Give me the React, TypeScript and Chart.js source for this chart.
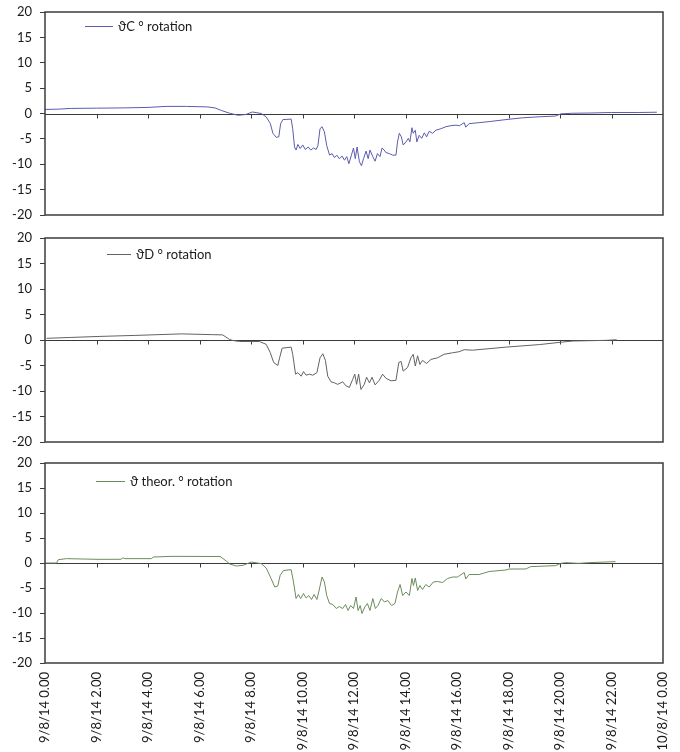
import React, { useEffect, useRef } from 'react';
import { Chart, registerables } from 'chart.js';

Chart.register(...registerables);

// ---- data (hours after 9/8/14 0.00, rotation in degrees) ----
const xTickHours = [0, 2, 4, 6, 8, 10, 12, 14, 16, 18, 20, 22, 24];
const xTickLabels = [
  '9/8/14 0.00', '9/8/14 2.00', '9/8/14 4.00', '9/8/14 6.00', '9/8/14 8.00',
  '9/8/14 10.00', '9/8/14 12.00', '9/8/14 14.00', '9/8/14 16.00', '9/8/14 18.00',
  '9/8/14 20.00', '9/8/14 22.00', '10/8/14 0.00',
];
const yMin = -20;
const yMax = 20;
const yStep = 5;

const hoursC = [
  0, 0.5, 1, 2, 3, 4, 4.7, 5.5, 6.3, 6.6,
  6.85, 7.17, 7.5, 7.8, 8.05, 8.4, 8.59, 8.75, 8.85, 8.98,
  9.08, 9.15, 9.24, 9.56, 9.62, 9.69, 9.75, 9.82, 9.91, 10.01,
  10.11, 10.22, 10.32, 10.43, 10.53, 10.6, 10.68, 10.76, 10.85, 10.94,
  11.05, 11.15, 11.24, 11.33, 11.43, 11.54, 11.63, 11.72, 11.8, 11.9,
  11.98, 12.05, 12.12, 12.21, 12.29, 12.37, 12.47, 12.55, 12.62, 12.73,
  12.82, 12.91, 13.01, 13.09, 13.17, 13.24, 13.37, 13.5, 13.63, 13.69,
  13.76, 13.84, 13.91, 14.02, 14.11, 14.17, 14.25, 14.3, 14.38, 14.44,
  14.53, 14.63, 14.73, 14.82, 14.92, 15.05, 15.18, 15.37, 15.57, 15.76,
  15.96, 16.1, 16.28, 16.34, 16.47, 16.86, 17.25, 17.9, 18.54, 19.19,
  19.83, 20.03, 20.48, 21.2, 22.0, 23.06, 23.76,
];
const valuesC = [
  0.8, 0.85, 1.0, 1.05, 1.1, 1.2, 1.4, 1.4, 1.3, 1.1,
  0.6, 0.05, -0.35, -0.2, 0.3, 0.0, -0.67, -1.97, -3.9, -4.7,
  -4.6, -2.0, -1.2, -1.1, -3.0, -6.6, -7.2, -6.1, -6.9, -6.2,
  -7.1, -6.6, -7.2, -6.8, -7.1, -6.3, -3.0, -2.6, -3.6, -6.3,
  -8.2, -7.9, -8.7, -8.2, -8.9, -8.4, -9.2, -8.5, -9.9, -8.2,
  -6.8, -8.9, -6.6, -9.5, -10.3, -8.9, -7.4, -8.9, -7.2, -8.5,
  -9.4, -7.9, -8.5, -6.8, -7.2, -7.7, -7.9, -8.2, -8.2, -5.6,
  -3.9, -4.6, -6.2, -5.6, -4.9, -5.6, -2.8, -3.9, -3.3, -5.6,
  -4.3, -4.9, -3.8, -4.6, -3.5, -3.9, -3.3, -3.0, -2.6, -2.4,
  -2.3, -2.4, -1.8, -2.7, -2.0, -1.8, -1.6, -1.2, -0.85, -0.65,
  -0.5, -0.07, 0.05, 0.1, 0.2, 0.2, 0.25,
];

const hoursD = [
  0.06, 1, 2.1, 3.5, 5.3, 6.5, 6.9, 7.17, 7.3, 7.56,
  8.33, 8.59, 8.75, 8.88, 9.04, 9.11, 9.21, 9.56, 9.62, 9.73,
  9.82, 9.95, 10.04, 10.14, 10.27, 10.4, 10.56, 10.68, 10.79, 10.89,
  10.98, 11.11, 11.24, 11.37, 11.56, 11.69, 11.82, 11.95, 12.03, 12.1,
  12.18, 12.27, 12.4, 12.49, 12.6, 12.7, 12.82, 12.98, 13.11, 13.24,
  13.44, 13.63, 13.74, 13.83, 13.91, 14.08, 14.21, 14.3, 14.38, 14.47,
  14.56, 14.66, 14.82, 14.99, 15.24, 15.5, 15.83, 16.08, 16.28, 16.6,
  17.9, 19.2, 20.1, 20.5, 21.8, 22.2,
];
const valuesD = [
  0.33, 0.5, 0.7, 0.9, 1.2, 1.05, 1.0, 0.1, -0.1, -0.3,
  -0.3, -0.85, -2.5, -4.4, -5.0, -3.5, -1.6, -1.4, -2.8, -6.7,
  -6.4, -7.1, -6.2, -6.9, -6.7, -6.9, -6.4, -3.5, -2.7, -4.0,
  -7.1, -8.2, -8.4, -8.7, -8.2, -9.0, -9.3, -7.7, -6.7, -8.7,
  -6.7, -9.7, -8.7, -7.3, -8.4, -7.3, -8.8, -7.9, -6.7, -7.5,
  -8.0, -7.9, -4.4, -4.2, -6.1, -5.4, -3.5, -2.8, -5.1, -3.1,
  -4.8, -4.0, -4.6, -3.8, -3.5, -2.8, -2.5, -2.3, -1.9, -2.0,
  -1.4, -0.9, -0.4, -0.2, -0.07, 0.05,
];

const hoursT = [
  0, 0.45, 0.52, 0.84, 2.1, 2.95, 3.03, 3.1, 4.14, 4.2,
  4.97, 6.8, 7.04, 7.17, 7.43, 7.69, 8.01, 8.4, 8.59, 8.78,
  8.92, 9.04, 9.13, 9.26, 9.56, 9.65, 9.75, 9.84, 9.93, 10.04,
  10.14, 10.24, 10.35, 10.45, 10.56, 10.63, 10.76, 10.85, 10.94, 11.05,
  11.18, 11.31, 11.43, 11.56, 11.67, 11.77, 11.87, 11.98, 12.08, 12.16,
  12.24, 12.31, 12.42, 12.52, 12.62, 12.73, 12.83, 12.93, 13.06, 13.18,
  13.31, 13.46, 13.59, 13.69, 13.79, 13.89, 14.02, 14.15, 14.25, 14.31,
  14.38, 14.47, 14.56, 14.66, 14.79, 14.92, 15.08, 15.24, 15.44, 15.63,
  15.83, 16.02, 16.28, 16.34, 16.47, 16.86, 17.25, 17.9, 18.02, 18.67,
  18.86, 19.83, 20.03, 20.22, 20.73, 21.12, 22.16,
];
const valuesT = [
  0, 0, 0.67, 0.87, 0.73, 0.75, 1.05, 0.87, 0.87, 1.2,
  1.33, 1.3, 0.4, -0.2, -0.6, -0.47, 0.2, -0.13, -1.0, -3.1,
  -4.8, -4.6, -2.5, -1.5, -1.33, -3.8, -7.1, -6.3, -7.1, -6.1,
  -7.0, -6.5, -7.3, -6.3, -7.3, -5.8, -2.8, -3.8, -6.5, -8.1,
  -8.3, -9.1, -8.7, -9.1, -8.3, -9.5, -8.5, -9.1, -6.8, -9.5,
  -8.5, -10.1, -8.8, -8.1, -9.5, -7.1, -9.1, -8.5, -7.1, -7.8,
  -7.5, -8.5, -8.1, -5.8, -4.3, -6.5, -5.8, -6.5, -3.1, -4.5,
  -3.0, -5.5, -4.5, -5.3, -4.3, -4.8, -3.8, -3.7, -3.9, -3.1,
  -2.8, -2.8, -1.9, -3.2, -2.3, -2.3, -1.7, -1.4, -1.2, -1.2,
  -0.73, -0.53, -0.07, 0.07, -0.07, 0.07, 0.27,
];

const FONT = 'Lato, Carlito, "Liberation Sans", sans-serif';

const panelDecor = {
  id: 'panelDecor',
  beforeDatasetsDraw(chart: any) {
    const { ctx, chartArea: a, scales } = chart;
    const x = scales.x;
    const y = scales.y;
    const y0 = Math.round(y.getPixelForValue(0)) + 0.5;
    ctx.save();
    ctx.strokeStyle = '#3a3a3a';
    ctx.lineWidth = 1;
    ctx.beginPath();
    ctx.moveTo(a.left, y0);
    ctx.lineTo(a.right, y0);
    xTickHours.forEach((h) => {
      if (h > xTickHours[0] && h < xTickHours[xTickHours.length - 1]) {
        const px = Math.round(x.getPixelForValue(h)) + 0.5;
        ctx.moveTo(px, y0);
        ctx.lineTo(px, y0 + 4);
      }
    });
    ctx.stroke();
    ctx.restore();
  },
  afterDraw(chart: any, _args: any, opts: any) {
    const { ctx, chartArea: a } = chart;
    ctx.save();
    ctx.strokeStyle = '#3c3c3c';
    ctx.lineWidth = 1.5;
    ctx.strokeRect(a.left, a.top, a.right - a.left, a.bottom - a.top);
    const ds = chart.data.datasets[0];
    const ly = Math.round(a.top + opts.ly) + 0.5;
    const lx = a.left + opts.lx;
    ctx.strokeStyle = ds.borderColor;
    ctx.lineWidth = 1;
    ctx.beginPath();
    ctx.moveTo(lx, ly);
    ctx.lineTo(lx + opts.len, ly);
    ctx.stroke();
    ctx.fillStyle = '#1a1a1a';
    ctx.font = '13px ' + FONT;
    ctx.textBaseline = 'middle';
    ctx.textAlign = 'left';
    ctx.fillText(ds.label, lx + opts.len + 5, ly);
    ctx.restore();
  },
};

type PanelProps = {
  top: number;
  height: number;
  hours: number[];
  values: number[];
  label: string;
  color: string;
  showX: boolean;
  legend: { lx: number; ly: number; len: number };
};

function Panel({ top, height, hours, values, label, color, showX, legend }: PanelProps) {
  const ref = useRef<HTMLCanvasElement | null>(null);
  useEffect(() => {
    if (!ref.current) return;
    const chart = new Chart(ref.current, {
      type: 'line',
      data: {
        datasets: [
          {
            label,
            data: hours.map((h, i) => ({ x: h, y: values[i] })),
            borderColor: color,
            borderWidth: 1,
            pointRadius: 0,
            tension: 0,
            fill: false,
          },
        ],
      },
      options: {
        animation: false,
        responsive: false,
        layout: { padding: { top: 10, bottom: showX ? 0 : 10, left: 0, right: 17 } },
        plugins: {
          legend: { display: false },
          tooltip: { enabled: false },
          panelDecor: legend,
        } as any,
        scales: {
          x: {
            type: 'linear',
            min: xTickHours[0],
            max: xTickHours[xTickHours.length - 1],
            display: showX,
            afterBuildTicks: (scale: any) => {
              scale.ticks = xTickHours.map((v) => ({ value: v }));
            },
            afterFit: (scale: any) => {
              if (showX) {
                scale.height = 89;
                scale.paddingLeft = 0;
                scale.paddingRight = 0;
              }
            },
            grid: { display: false, drawTicks: false, tickLength: 0 },
            border: { display: false },
            ticks: {
              autoSkip: false,
              minRotation: 90,
              maxRotation: 90,
              padding: 9,
              color: '#1a1a1a',
              font: { family: FONT, size: 13 },
              callback: (_v: any, i: number) => xTickLabels[i],
            },
          },
          y: {
            min: yMin,
            max: yMax,
            afterFit: (scale: any) => {
              scale.width = 45;
              scale.paddingTop = 0;
              scale.paddingBottom = 0;
            },
            grid: { drawOnChartArea: false, drawTicks: true, tickLength: 5, color: '#3c3c3c' },
            border: { display: false },
            ticks: {
              stepSize: yStep,
              autoSkip: false,
              padding: 8,
              color: '#1a1a1a',
              font: { family: FONT, size: 13 },
            },
          },
        },
      },
      plugins: [panelDecor as any],
    });
    return () => chart.destroy();
  }, []);
  return (
    <canvas
      ref={ref}
      width={680}
      height={height}
      style={{ position: 'absolute', left: 0, top, display: 'block' }}
    />
  );
}

export default function App() {
  return (
    <div style={{ position: 'fixed', left: 0, top: 0, width: 680, height: 752, background: '#fff' }}>
      <Panel
        top={2}
        height={223}
        hours={hoursC}
        values={valuesC}
        label="ϑC ° rotation"
        color="#5b5bb0"
        showX={false}
        legend={{ lx: 40, ly: 14, len: 28 }}
      />
      <Panel
        top={228}
        height={224}
        hours={hoursD}
        values={valuesD}
        label="ϑD ° rotation"
        color="#626262"
        showX={false}
        legend={{ lx: 62, ly: 16, len: 24 }}
      />
      <Panel
        top={453}
        height={299}
        hours={hoursT}
        values={valuesT}
        label="ϑ theor. ° rotation"
        color="#6b8c5c"
        showX={true}
        legend={{ lx: 51, ly: 18, len: 29 }}
      />
    </div>
  );
}
